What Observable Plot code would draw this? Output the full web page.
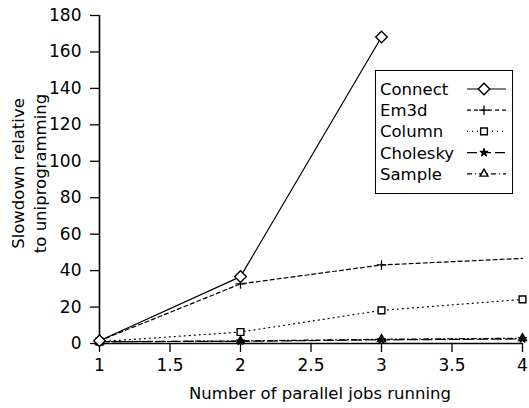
<!DOCTYPE html>
<html><head><meta charset="utf-8">
<script src="https://cdn.jsdelivr.net/npm/d3@7"></script>
<script src="https://cdn.jsdelivr.net/npm/@observablehq/plot@0.6"></script>
<style>
body{margin:0;background:#fff;font-family:"DejaVu Sans",sans-serif;}
#wrap{position:relative;width:529px;height:408px;}
#legend{position:absolute;left:375px;top:70px;width:136px;height:122px;border:1.5px solid #000;background:#fff;}
</style>
</head><body>
<div id="wrap"><div id="legend"></div></div>
<script>
const jobs = [1, 2, 3, 4];
const seriesNames = ["Connect", "Em3d", "Column", "Cholesky", "Sample"];
const connect = [1.5, 36.7, 168.2, null];
const em3d = [1.5, 32.7, 43.1, 46.7];
const column = [1.0, 6.3, 18.2, 24.2];
const cholesky = [1.0, 1.2, 2.0, 2.5];
const sample = [1.0, 1.4, 2.3, 2.9];
const xTicks = [1, 1.5, 2, 2.5, 3, 3.5, 4];
const yTicks = [0, 20, 40, 60, 80, 100, 120, 140, 160, 180];

const values = [connect, em3d, column, cholesky, sample];
const styles = {
  Connect: {dash: null, symbol: "diamond2", fill: "white", r: 5.2, sw: 1.4},
  Em3d: {dash: "4,3", symbol: "plus", fill: "none", r: 3.2, sw: 1.3},
  Column: {dash: "1,4", symbol: "square2", fill: "white", r: 4.3, sw: 1.4},
  Cholesky: {dash: "10,4", symbol: "star", fill: "black", r: 2.6, sw: 1},
  Sample: {dash: "5,3,1,3", symbol: "triangle2", fill: "white", r: 3.8, sw: 1.4}
};
const data = [];
seriesNames.forEach((s, i) => jobs.forEach((x, j) => {
  if (values[i][j] != null) data.push({series: s, x, y: values[i][j]});
}));

const marks = [];
seriesNames.slice().reverse().forEach(s => {
  const st = styles[s];
  const d = data.filter(p => p.series === s);
  marks.push(Plot.line(d, {x: "x", y: "y", stroke: "black", strokeWidth: 1.2, strokeDasharray: st.dash}));
});
seriesNames.slice().reverse().forEach(s => {
  const st = styles[s];
  // the Em3d marker at the right edge is not drawn in the original
  const d = data.filter(p => p.series === s && !(s === "Em3d" && p.x === 4));
  marks.push(Plot.dot(d, {x: "x", y: "y", symbol: () => st.symbol, r: st.r, stroke: "black", strokeWidth: st.sw, fill: st.fill}));
});

const FONT = "'DejaVu Sans', sans-serif";
const chart = Plot.plot({
  width: 529, height: 408,
  marginLeft: 99, marginRight: 7, marginTop: 15, marginBottom: 65,
  style: {fontSize: "17px", fontFamily: FONT, color: "black", background: "white"},
  x: {domain: [1, 4]},
  y: {domain: [0, 180]},
  symbol: {type: "identity"},
  marks: [
    Plot.axisX({ticks: xTicks, tickSize: 9, tickPadding: 6, label: null, tickFormat: d => String(d), strokeWidth: 1.3, fontSize: 17}),
    Plot.axisY({ticks: yTicks, tickSize: 9, tickPadding: 9, label: null, strokeWidth: 1.3, fontSize: 17}),
    Plot.ruleX([1], {stroke: "black", strokeWidth: 1.6}),
    Plot.ruleY([0], {stroke: "black", strokeWidth: 1.6}),
    ...marks,
    Plot.text(["Slowdown relative\nto uniprogramming"], {frameAnchor: "left", textAnchor: "middle", lineAnchor: "middle", rotate: -90, dx: -72, dy: -6, fontSize: 16.5, lineHeight: 1.35, fill: "black"}),
    Plot.text(["Number of parallel jobs running"], {frameAnchor: "bottom", dx: 9, dy: 55, fontSize: 16.5, fill: "black"})
  ]
});
document.getElementById("wrap").prepend(chart);

// legend
const legend = d3.select("#legend");
const lsvg = legend.append("svg").attr("width", 136).attr("height", 122)
  .style("font-family", FONT).style("font-size", "16.5px").style("display", "block");
const symGen = {diamond2: d3.symbolDiamond2, plus: d3.symbolPlus, square2: d3.symbolSquare2, star: d3.symbolStar, triangle2: d3.symbolTriangle2};
seriesNames.forEach((s, i) => {
  const st = styles[s];
  const y = 18 + i * 21.2;
  lsvg.append("text").attr("x", 4).attr("y", y).attr("dy", "0.36em").text(s);
  lsvg.append("line").attr("x1", 91).attr("x2", 130).attr("y1", y).attr("y2", y)
    .attr("stroke", "black").attr("stroke-width", 1.2).attr("stroke-dasharray", st.dash);
  lsvg.append("path").attr("transform", `translate(108,${y})`)
    .attr("d", d3.symbol(symGen[st.symbol], Math.PI * st.r * st.r)())
    .attr("stroke", "black").attr("stroke-width", st.sw).attr("fill", st.fill);
});
</script>
</body></html>
